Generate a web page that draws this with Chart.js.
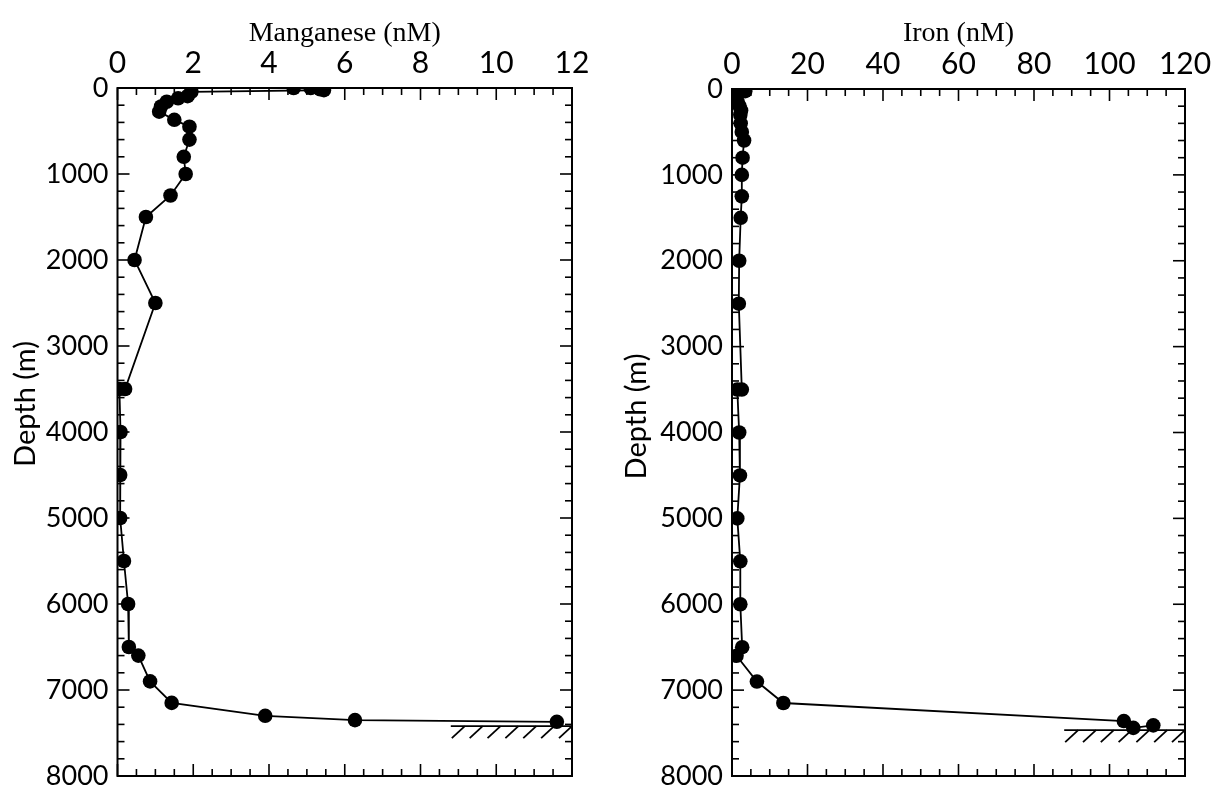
<!DOCTYPE html>
<html><head><meta charset="utf-8">
<script src="https://cdn.jsdelivr.net/npm/chart.js@4"></script>
<style>
html,body{margin:0;padding:0;background:#fff;width:1228px;height:788px;overflow:hidden}
.wrap{position:absolute;top:0;height:788px}
#w1{left:0;width:600px}
#w2{left:600px;width:628px}
canvas{display:block}
</style></head><body>
<div class="wrap" id="w1"><canvas id="c1" width="600" height="788"></canvas></div>
<div class="wrap" id="w2"><canvas id="c2" width="628" height="788"></canvas></div>
<script>
// ---- data ----
const mnDepth = [0,0,15,25,45,95,120,160,215,275,370,450,600,800,1000,1250,1500,2000,2500,3500,3500,4000,4500,5000,5500,6000,6500,6600,6900,7150,7300,7350,7370];
const mnConc  = [4.65,5.1,5.35,5.45,1.95,1.85,1.6,1.3,1.15,1.1,1.5,1.9,1.9,1.75,1.8,1.4,0.75,0.45,1.0,0.2,0.05,0.08,0.07,0.07,0.17,0.28,0.3,0.55,0.86,1.43,3.9,6.27,11.6];
const feDepth = [0,25,50,100,150,200,250,300,400,500,600,800,1000,1250,1500,2000,2500,3500,3500,4000,4500,5000,5500,6000,6500,6600,6900,7150,7360,7440,7410];
const feConc  = [2.5,3.5,0.3,0.8,1.5,2.0,2.4,2.2,2.3,2.6,3.2,2.8,2.6,2.6,2.3,1.9,1.8,2.6,1.4,1.9,2.1,1.4,2.2,2.2,2.7,1.2,6.6,13.6,103.8,106.3,111.6];
const depthRange = [0, 8000];
const mnRange = [0, 12];
const feRange = [0, 120];
const mnSeafloor = [7420, 8.8, 12];   // depth, from, to
const feSeafloor = [7465, 88, 120];
const titles = {mn: 'Manganese (nM)', fe: 'Iron (nM)', depth: 'Depth (m)'};

const serif = "'Liberation Serif', 'DejaVu Serif', serif";
const sans = "Lato, 'Open Sans', sans-serif";

const frameTicks = {
  id: 'frameTicks',
  afterDatasetsDraw(chart, args, o) {
    const {ctx, chartArea: a, scales: {x, y}} = chart;
    ctx.save();
    ctx.strokeStyle = '#000';
    ctx.lineWidth = 2;
    ctx.strokeRect(a.left, a.top, a.right - a.left, a.bottom - a.top);
    ctx.lineWidth = 1.6;
    const seg = (x1, y1, x2, y2) => { ctx.beginPath(); ctx.moveTo(x1, y1); ctx.lineTo(x2, y2); ctx.stroke(); };
    const isMajor = (v, m) => Math.abs(v / m - Math.round(v / m)) < 1e-6;
    const nx = Math.round((x.max - x.min) / o.xMinor);
    for (let i = 0; i <= nx; i++) {
      const v = x.min + i * o.xMinor, px = x.getPixelForValue(v);
      const L = isMajor(v, o.xMajor) ? o.majorLen : o.minorLen;
      seg(px, a.top, px, a.top + L);
      seg(px, a.bottom, px, a.bottom - L);
    }
    const ny = Math.round((y.max - y.min) / o.yMinor);
    for (let i = 0; i <= ny; i++) {
      const v = y.min + i * o.yMinor, py = y.getPixelForValue(v);
      const L = isMajor(v, o.yMajor) ? o.majorLen : o.minorLen;
      seg(a.left, py, a.left + L, py);
      seg(a.right, py, a.right - L, py);
    }
    // seafloor hatch
    const sf = o.seafloor;
    const yl = y.getPixelForValue(sf[0]);
    const x1 = x.getPixelForValue(sf[1]), x2 = x.getPixelForValue(sf[2]);
    ctx.lineWidth = 1.8;
    seg(x1, yl, x2, yl);
    const n = 7, step = (x2 - x1 - 14) / (n - 1);
    for (let i = 0; i < n; i++) {
      const hx = x1 + 14 + i * step;
      seg(hx, yl, hx - 13, yl + 12);
    }
    // y-axis title
    ctx.fillStyle = '#000';
    ctx.font = o.yTitleFont;
    ctx.textAlign = 'center';
    ctx.textBaseline = 'middle';
    ctx.translate(o.yTitleX, (a.top + a.bottom) / 2 + o.yTitleShift);
    ctx.rotate(-Math.PI / 2);
    ctx.fillText(titles.depth, 0, 0);
    ctx.restore();
  }
};

function makeChart(id, xs, ys, xr, xStep, xMinor, title, yWidth, xHeight, padR, yTitleX, yTitleShift, sf) {
  const pts = xs.map((v, i) => ({x: v, y: ys[i]}));
  return new Chart(document.getElementById(id), {
    type: 'scatter',
    data: {datasets: [{
      data: pts, showLine: true, borderColor: '#000', borderWidth: 1.8,
      pointRadius: 7.3, pointBackgroundColor: '#000', pointBorderWidth: 0, pointHoverRadius: 7.3
    }]},
    options: {
      responsive: false, animation: false, devicePixelRatio: 1,
      layout: {padding: {left: 0, right: padR, top: 0, bottom: 12}},
      plugins: {legend: {display: false}, tooltip: {enabled: false},
        frameTicks: {xMinor: xMinor, xMajor: xStep, yMinor: 200, yMajor: 1000, majorLen: 12, minorLen: 7, seafloor: sf,
          yTitleFont: "29px " + sans, yTitleX: yTitleX, yTitleShift: yTitleShift}},
      scales: {
        x: {type: 'linear', position: 'top', min: xr[0], max: xr[1],
          ticks: {stepSize: xStep, color: '#000', font: {family: sans, size: 30}, padding: 7, maxRotation: 0,
            callback: v => String(v)},
          grid: {display: false, drawTicks: false}, border: {display: false},
          title: {display: true, text: title, color: '#000', font: {family: serif, size: 28}, padding: {top: 17, bottom: 0}},
          afterFit: s => { s.height = xHeight; s.paddingLeft = 0; s.paddingRight = 0; }
        },
        y: {type: 'linear', reverse: true, min: depthRange[0], max: depthRange[1],
          ticks: {stepSize: 1000, color: '#000', font: {family: sans, size: 27}, padding: 9,
            callback: v => String(v)},
          grid: {display: false, drawTicks: false}, border: {display: false},
          title: {display: false},
          afterFit: s => { s.width = yWidth; s.paddingTop = 0; s.paddingBottom = 0; }
        }
      }
    },
    plugins: [frameTicks]
  });
}

makeChart('c1', mnConc, mnDepth, mnRange, 2, 0.5, titles.mn, 117.5, 88, 28, 26, -28, mnSeafloor);
makeChart('c2', feConc, feDepth, feRange, 20, 5, titles.fe, 132, 89, 43, 37, -16, feSeafloor);
</script>
</body></html>
